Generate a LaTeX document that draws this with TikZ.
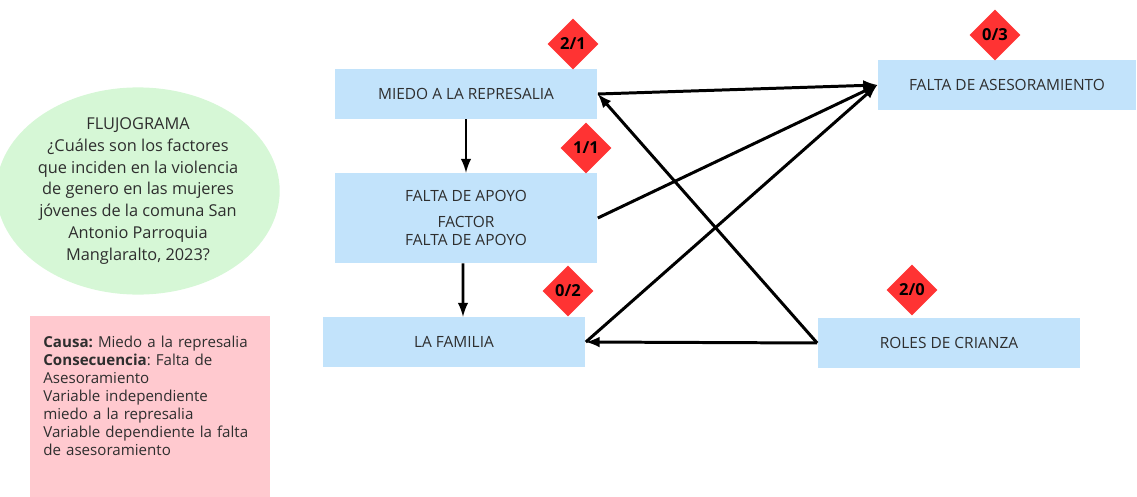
\documentclass[tikz,border=0pt]{standalone}
\usepackage{fontspec}
\setmainfont{Open Sans}
\usepackage{tikz}
\tikzset{>=latex}
\usetikzlibrary{arrows,shapes.geometric,positioning}
\frenchspacing

\definecolor{cajaazul}{HTML}{C2E3FB}
\definecolor{rombo}{HTML}{FF3333}
\definecolor{verdeclaro}{HTML}{D6F7D6}
\definecolor{rosa}{HTML}{FFC9CF}
\definecolor{texto}{HTML}{2E2E2E}

\tikzset{
  factor/.style={rectangle,fill=cajaazul,minimum width=5.26cm,minimum height=1cm,
    text=texto,font=\fontsize{8.8}{10.5}\selectfont,align=center,inner sep=0pt},
  peso/.style={diamond,fill=rombo,minimum width=1.02cm,minimum height=1.02cm,
    inner sep=0pt,font=\bfseries\fontsize{9.4}{10}\selectfont},
  flecha/.style={->,line width=1.7pt}
}

\begin{document}
\begin{tikzpicture}[x=0.02cm,y=-0.02cm]
                \useasboundingbox (0,0) rectangle (1137,497);
                % pregunta y notas
                \node[ellipse,fill=verdeclaro,minimum width=5.24cm,minimum height=4.04cm,inner sep=0pt,
                      text=texto,align=center,font=\fontsize{9.3}{12.4}\selectfont] (pregunta) at (138,191)
                      {FLUJOGRAMA\\¿Cuáles son los factores\\que inciden en la violencia\\de genero en las mujeres\\jóvenes de la comuna San\\Antonio Parroquia\\Manglaralto, 2023?};
                \fill[rosa] (30,316) rectangle (270,497);
                \node[anchor=north west,text width=4.5cm,align=left,inner sep=0pt,text=texto,
                      font=\fontsize{8.6}{10.2}\selectfont] (notas) at (43,336)
                      {\textbf{Causa:} Miedo a la represalia\\\textbf{Consecuencia}: Falta de\\Asesoramiento\\Variable independiente\\miedo a la represalia\\Variable dependiente la falta\\de asesoramiento};

                % factores
                \node[factor] (miedo) at (466,94) {MIEDO A LA REPRESALIA};
                \node[factor,minimum height=1.8cm] (apoyo) at (466,218) {FALTA DE APOYO\\[4pt]FACTOR\\FALTA DE APOYO};
                \node[factor] (familia) at (454,342) {LA FAMILIA};
                \node[factor,minimum width=5.18cm] (aseso) at (1007,85) {FALTA DE ASESORAMIENTO};
                \node[factor] (roles) at (949,343) {ROLES DE CRIANZA};

                \node[peso] (p1) at (573,44) {2/1};
                \node[peso] (p2) at (586,148) {1/1};
                \node[peso] (p3) at (568,291) {0/2};
                \node[peso] (p4) at (995,35) {0/3};
                \node[peso] (p5) at (912,290) {2/0};

                % relaciones
                \draw[flecha] (miedo.south) -- (apoyo.north);
                \draw[flecha] ([xshift=-0.06cm]apoyo.south) -- ([xshift=0.18cm]familia.north);
                \draw[flecha] (miedo.east) -- (aseso.west);
                \draw[flecha] (apoyo.east) -- (aseso.west);
                \draw[flecha] (familia.east) -- (aseso.west);
                \draw[flecha] (roles.west) -- (miedo.east);
                \draw[flecha] (roles.west) -- (familia.east);
                \end{tikzpicture}
\end{document}
